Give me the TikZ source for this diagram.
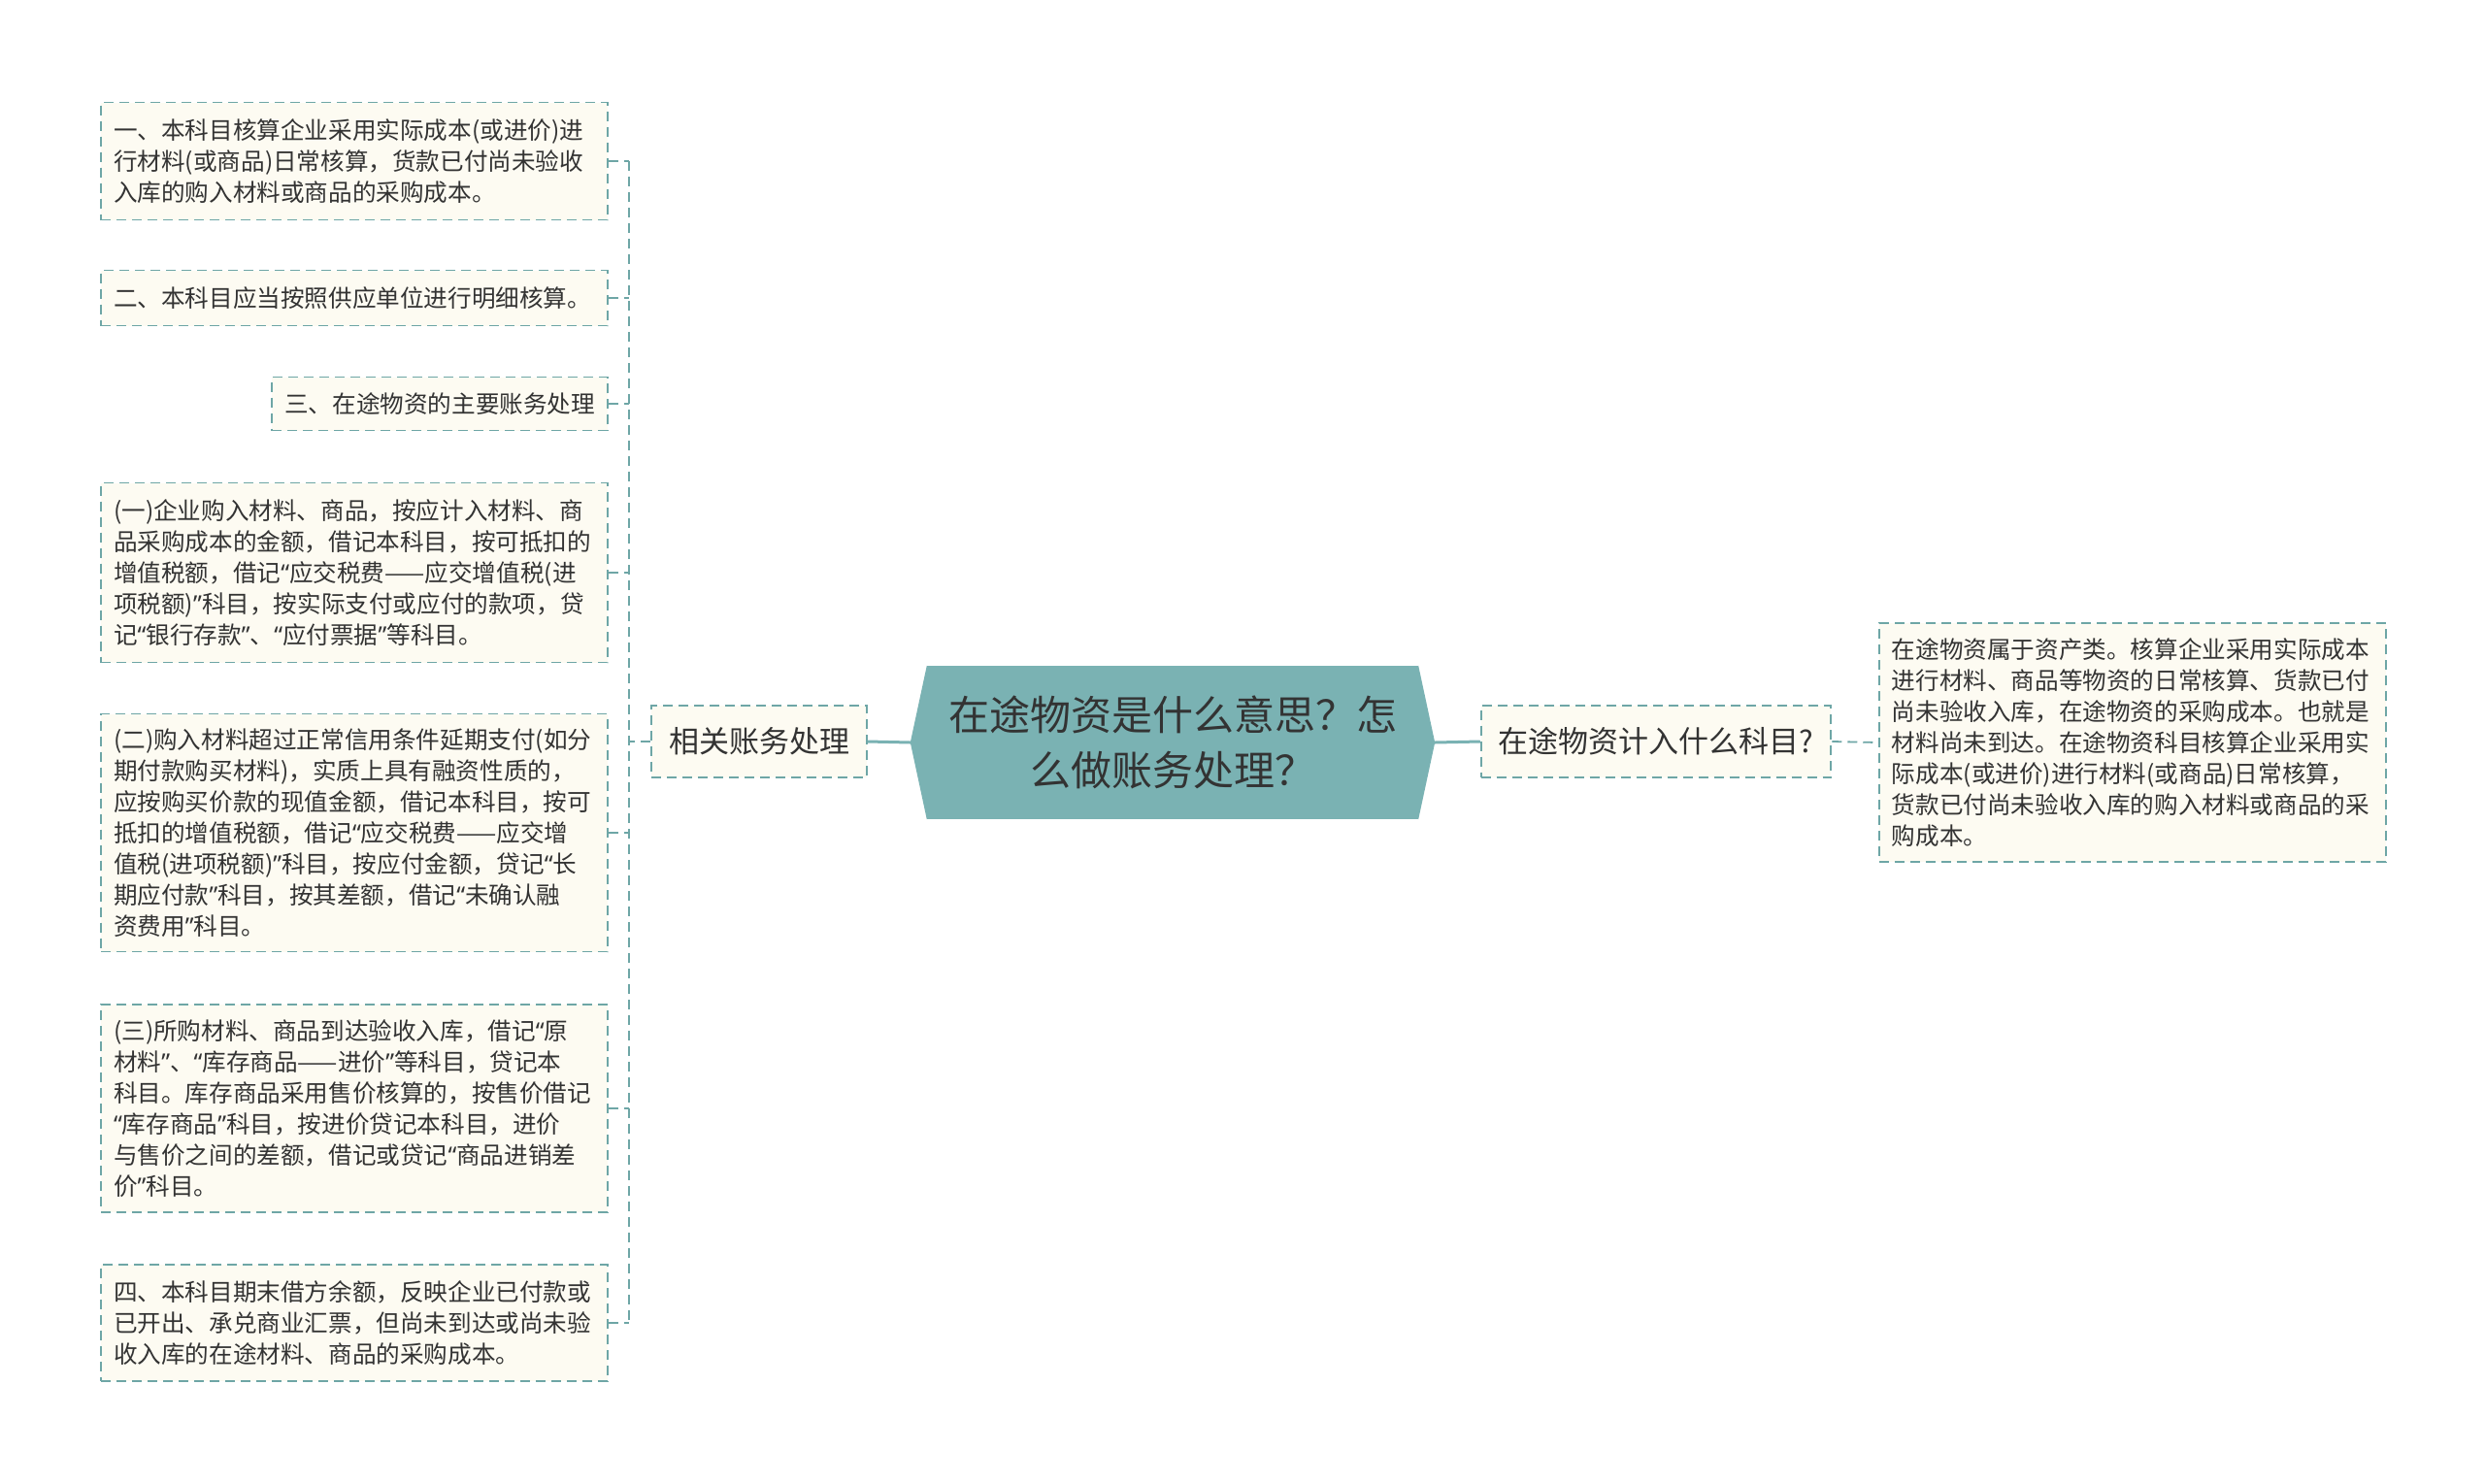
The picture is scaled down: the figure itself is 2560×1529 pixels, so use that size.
\documentclass[tikz,border=0pt]{standalone}
\usepackage{fontspec}
\setmainfont{Noto Sans CJK SC}
\newfontfamily\qfont{Noto Sans}
\newcommand\qo{{\qfont “}}
\newcommand\qc{{\qfont ”}}
\definecolor{rootteal}{RGB}{122,178,179}
\definecolor{edgeteal}{RGB}{110,166,166}
\definecolor{boxcream}{RGB}{253,251,242}
\definecolor{txtgray}{RGB}{51,51,51}
\tikzset{
	detail/.style={draw=edgeteal,line width=1.8pt,dash pattern=on 10pt off 6pt,fill=boxcream,text=txtgray,align=left,inner xsep=13pt,inner ysep=6pt,font=\fontsize{24.6}{32}\selectfont},
	widebox/.style={detail,text width=496pt},
	topic/.style={detail,align=center,inner xsep=18pt,minimum height=74pt,font=\fontsize{31}{38}\selectfont},
	rootline/.style={draw=rootteal,line width=3pt},
	subline/.style={draw=edgeteal,line width=1.8pt,dash pattern=on 10pt off 6pt}
}
\begin{document}
\begin{tikzpicture}[x=1pt,y=-1pt]
	\useasboundingbox (0,0) rectangle (2560,1529);
	\fill[white] (0,0) rectangle (2560,1529);
	\node[fill=rootteal,minimum width=506pt,minimum height=158pt,inner sep=0pt,align=center,text=txtgray,font=\fontsize{42}{57}\selectfont] (root) at (1208,765) {在途物资是什么意思？怎\\么做账务处理？};
	\fill[rootteal] (root.north west) -- ([xshift=-17pt]root.west) -- (root.south west) -- cycle;
	\fill[rootteal] (root.north east) -- ([xshift=17pt]root.east) -- (root.south east) -- cycle;
	\node[topic] (rel) at (782,764) {相关账务处理};
	\node[topic] (kemu) at (1706,764) {在途物资计入什么科目?};
	\node[widebox,anchor=west,minimum height=246pt] (kemuinfo) at (1935,765) {在途物资属于资产类。核算企业采用实际成本\\进行材料、商品等物资的日常核算、货款已付\\尚未验收入库，在途物资的采购成本。也就是\\材料尚未到达。在途物资科目核算企业采用实\\际成本(或进价)进行材料(或商品)日常核算，\\货款已付尚未验收入库的购入材料或商品的采\\购成本。};
	\node[widebox,anchor=east,minimum height=121pt] (b1) at (627,166) {一、本科目核算企业采用实际成本(或进价)进\\行材料(或商品)日常核算，货款已付尚未验收\\入库的购入材料或商品的采购成本。};
	\node[widebox,anchor=east,minimum height=57pt] (b2) at (627,307) {二、本科目应当按照供应单位进行明细核算。};
	\node[detail,anchor=east,minimum height=55pt] (b3) at (627,416) {三、在途物资的主要账务处理};
	\node[widebox,anchor=east,minimum height=185pt] (b4) at (627,590) {(一)企业购入材料、商品，按应计入材料、商\\品采购成本的金额，借记本科目，按可抵扣的\\增值税额，借记\qo 应交税费——应交增值税(进\\项税额)\qc 科目，按实际支付或应付的款项，贷\\记\qo 银行存款\qc 、\qo 应付票据\qc 等科目。};
	\node[widebox,anchor=east,minimum height=245pt] (b5) at (627,858) {(二)购入材料超过正常信用条件延期支付(如分\\期付款购买材料)，实质上具有融资性质的，\\应按购买价款的现值金额，借记本科目，按可\\抵扣的增值税额，借记\qo 应交税费——应交增\\值税(进项税额)\qc 科目，按应付金额，贷记\qo 长\\期应付款\qc 科目，按其差额，借记\qo 未确认融\\资费用\qc 科目。};
	\node[widebox,anchor=east,minimum height=214pt] (b6) at (627,1142) {(三)所购材料、商品到达验收入库，借记\qo 原\\材料\qc 、\qo 库存商品——进价\qc 等科目，贷记本\\科目。库存商品采用售价核算的，按售价借记\\\qo 库存商品\qc 科目，按进价贷记本科目，进价\\与售价之间的差额，借记或贷记\qo 商品进销差\\价\qc 科目。};
	\node[widebox,anchor=east,minimum height=120pt] (b7) at (627,1363) {四、本科目期末借方余额，反映企业已付款或\\已开出、承兑商业汇票，但尚未到达或尚未验\\收入库的在途材料、商品的采购成本。};
	\coordinate (spine) at (648,0);
	\draw[rootline] ([xshift=-17pt]root.west) -- (rel.east);
	\draw[rootline] ([xshift=17pt]root.east) -- (kemu.west);
	\draw[subline] (kemu.east) -- (kemuinfo.west);
	\draw[subline] (rel.west) -- (rel.west -| spine);
	\draw[subline] (b1.east -| spine) -- (b7.east -| spine);
	\foreach \b in {b1,b2,b3,b4,b5,b6,b7}
		\draw[subline] (\b.east) -- (\b.east -| spine);
\end{tikzpicture}
\end{document}
